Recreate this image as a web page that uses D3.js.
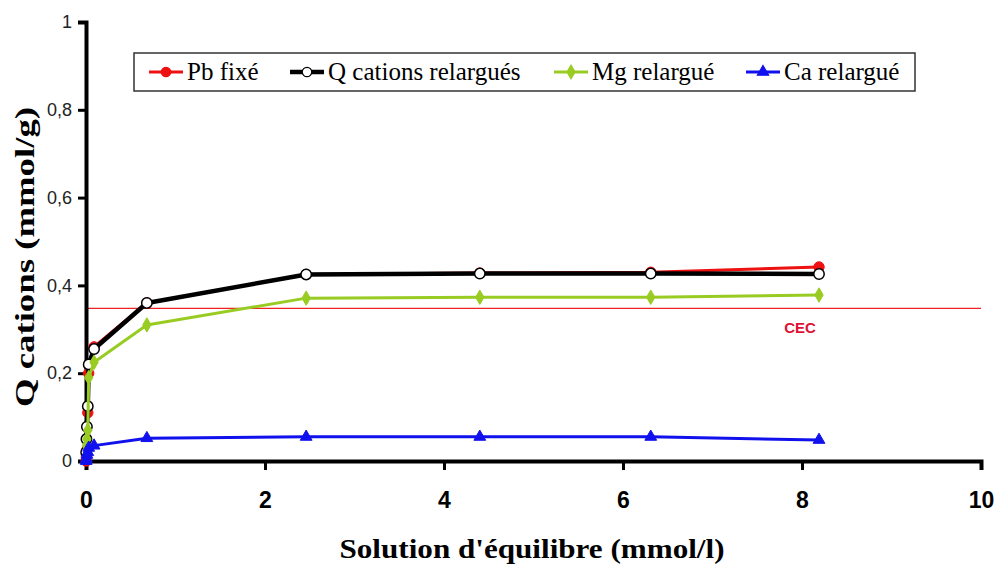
<!DOCTYPE html>
<html>
<head>
<meta charset="utf-8">
<script src="https://cdn.jsdelivr.net/npm/d3@7"></script>
<style>
body { margin: 0; background: #fff; }
</style>
</head>
<body>
<div id="chart"></div>
<script>
// data
var xVals = [0.002, 0.005, 0.01, 0.02, 0.03, 0.09, 0.68, 2.46, 4.40, 6.31, 8.19];
var pbFixe = [0.0, 0.01, 0.025, 0.11, 0.20, 0.26, 0.36, 0.425, 0.428, 0.43, 0.442];
var qCations = [0.02, 0.05, 0.078, 0.125, 0.22, 0.255, 0.36, 0.425, 0.427, 0.427, 0.426];
var mgRelargue = [0.01, 0.035, 0.05, 0.07, 0.19, 0.225, 0.31, 0.371, 0.373, 0.373, 0.378];
var caRelargue = [0.0, 0.005, 0.014, 0.02, 0.03, 0.035, 0.052, 0.055, 0.055, 0.055, 0.048];
var cec = 0.35;
var xTicks = [0, 2, 4, 6, 8, 10];
var yTicks = [0, 0.2, 0.4, 0.6, 0.8, 1];
var seriesNames = ["Pb fixé", "Q cations relargués", "Mg relargué", "Ca relargué"];

var series = [
    {name: seriesNames[0], values: pbFixe, color: "#ee1111", width: 3, marker: "circle", fill: "#ee1111"},
    {name: seriesNames[1], values: qCations, color: "#000000", width: 4.5, marker: "circle", fill: "#ffffff"},
    {name: seriesNames[2], values: mgRelargue, color: "#99cc22", width: 3, marker: "diamond", fill: "#99cc22"},
    {name: seriesNames[3], values: caRelargue, color: "#1111ee", width: 3, marker: "triangle", fill: "#1111ee"}
];

var width = 997, height = 568;
var svg = d3.select("#chart").append("svg")
    .attr("width", width)
    .attr("height", height);

var x = d3.scaleLinear().domain([0, 10]).range([86, 981]);
var y = d3.scaleLinear().domain([0, 1]).range([461, 22]);

// CEC line
svg.append("line")
    .attr("x1", x(0)).attr("x2", x(10))
    .attr("y1", y(cec) + 1).attr("y2", y(cec) + 1)
    .attr("stroke", "#ee2222")
    .attr("stroke-width", 1.3);

svg.append("text")
    .attr("x", 800).attr("y", y(cec) + 26)
    .attr("text-anchor", "middle")
    .attr("font-family", "Liberation Sans, Arial, sans-serif")
    .attr("font-weight", "bold")
    .attr("font-size", 15)
    .attr("fill", "#dd1133")
    .text("CEC");

// axes
var yAxis = d3.axisLeft(y).tickValues(yTicks).tickSize(8)
    .tickFormat(function(d){ return d === 0 || d === 1 ? d3.format("d")(d) : d3.format(".1f")(d).replace(".", ","); });
var gy = svg.append("g")
    .attr("transform", "translate(" + x(0) + ",0)")
    .call(yAxis);
gy.select(".domain").attr("stroke", "#000").attr("stroke-width", 4);
gy.selectAll(".tick line").attr("stroke", "#000").attr("stroke-width", 3);
gy.selectAll(".tick text")
    .attr("font-family", "Liberation Sans, Arial, sans-serif")
    .attr("font-size", 18)
    .attr("fill", "#222")
    .attr("x", -14);

var xAxis = d3.axisBottom(x).tickValues(xTicks).tickSize(9).tickFormat(d3.format("d"));
var gx = svg.append("g")
    .attr("transform", "translate(0," + y(0) + ")")
    .call(xAxis);
gx.select(".domain").attr("stroke", "#000").attr("stroke-width", 4);
gx.selectAll(".tick line").attr("stroke", "#000").attr("stroke-width", 3);
gx.selectAll(".tick text")
    .attr("font-family", "Liberation Sans, Arial, sans-serif")
    .attr("font-weight", "bold")
    .attr("font-size", 23)
    .attr("fill", "#000")
    .attr("y", 31);

// axis titles
svg.append("text")
    .attr("x", 532).attr("y", 558)
    .attr("text-anchor", "middle")
    .attr("font-family", "Liberation Serif, Times New Roman, serif")
    .attr("font-weight", "bold")
    .attr("font-size", 27)
    .attr("textLength", 385)
    .attr("lengthAdjust", "spacingAndGlyphs")
    .text("Solution d'équilibre (mmol/l)");

svg.append("text")
    .attr("transform", "translate(34,257) rotate(-90)")
    .attr("text-anchor", "middle")
    .attr("font-family", "Liberation Serif, Times New Roman, serif")
    .attr("font-weight", "bold")
    .attr("font-size", 27)
    .attr("textLength", 300)
    .attr("lengthAdjust", "spacingAndGlyphs")
    .text("Q cations (mmol/g)");

// lines + markers
var line = d3.line()
    .x(function(d, i){ return x(xVals[i]); })
    .y(function(d){ return y(d); });

var symbolFor = function(s, size){
    var type = s.marker === "diamond" ? d3.symbolDiamond : s.marker === "triangle" ? d3.symbolTriangle : d3.symbolCircle;
    return d3.symbol().type(type).size(size)();
};

series.forEach(function(s){
    svg.append("path")
        .datum(s.values)
        .attr("fill", "none")
        .attr("stroke", s.color)
        .attr("stroke-width", s.width)
        .attr("stroke-linejoin", "round")
        .attr("d", line);

    svg.selectAll(".m-" + s.marker + s.color.slice(1))
        .data(s.values)
        .enter().append("path")
        .attr("d", symbolFor(s, s.marker === "circle" ? 85 : 60))
        .attr("transform", function(d, i){ return "translate(" + x(xVals[i]) + "," + y(d) + ")"; })
        .attr("fill", s.fill)
        .attr("stroke", s.marker === "circle" && s.fill === "#ffffff" ? "#000" : s.color)
        .attr("stroke-width", s.marker === "circle" && s.fill === "#ffffff" ? 1.5 : 1);
});

// legend
var legend = svg.append("g");
legend.append("rect")
    .attr("x", 134).attr("y", 53)
    .attr("width", 781).attr("height", 38)
    .attr("fill", "#fff")
    .attr("stroke", "#333")
    .attr("stroke-width", 1.5);

var legendX = [149, 290, 554, 746];
series.forEach(function(s, i){
    var g = legend.append("g").attr("transform", "translate(" + legendX[i] + ",72)");
    g.append("line")
        .attr("x1", 0).attr("x2", 34)
        .attr("stroke", s.color)
        .attr("stroke-width", s.width);
    g.append("path")
        .attr("d", symbolFor(s, s.marker === "circle" ? 70 : 55))
        .attr("transform", "translate(17,0)")
        .attr("fill", s.fill)
        .attr("stroke", s.marker === "circle" && s.fill === "#ffffff" ? "#000" : s.color)
        .attr("stroke-width", 1.2);
    g.append("text")
        .attr("x", 38).attr("y", 8)
        .attr("font-family", "Liberation Serif, Times New Roman, serif")
        .attr("font-size", 25)
        .attr("fill", "#000")
        .text(s.name);
});
</script>
</body>
</html>
